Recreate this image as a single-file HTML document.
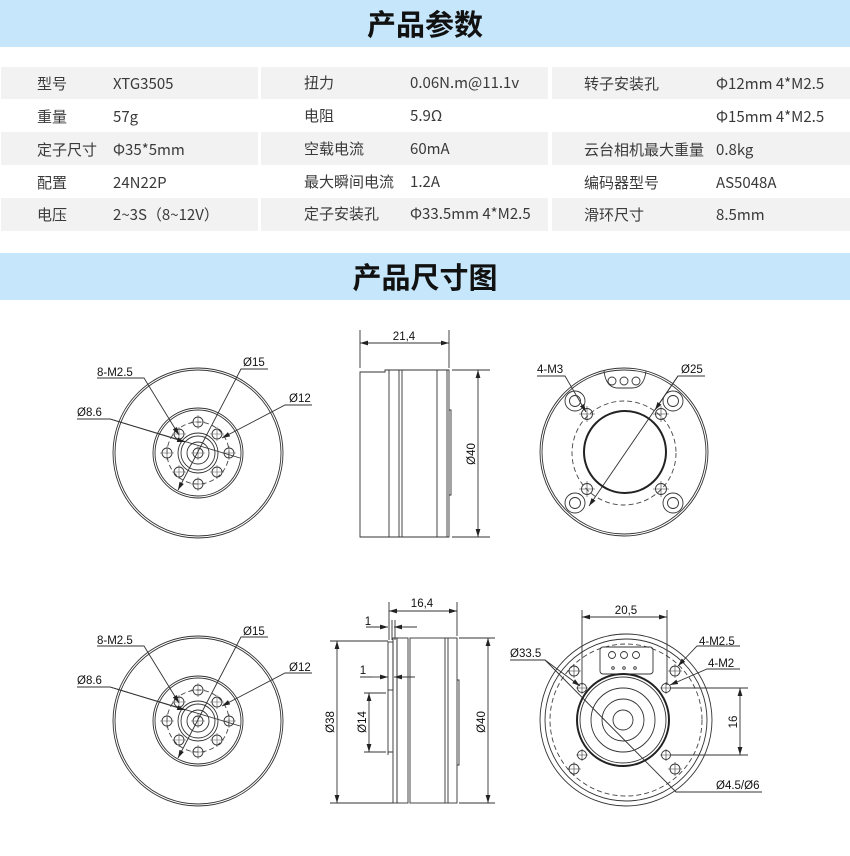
<!DOCTYPE html>
<html><head><meta charset="utf-8"><style>
html,body{margin:0;padding:0;background:#fff;}
svg{display:block;}
.t{font-family:"Noto Sans CJK SC","Liberation Sans",sans-serif;font-size:15px;fill:#3a3a3a;}
.h{font-family:"Noto Sans CJK SC","Liberation Sans",sans-serif;font-size:29px;font-weight:bold;fill:#111;}
.d{font-family:"Liberation Sans",sans-serif;font-size:11.5px;fill:#111;}
.l{stroke:#333;stroke-width:0.9;fill:none;}
.b{stroke:#222;stroke-width:2;fill:none;}
.ds{stroke:#444;stroke-width:0.9;fill:none;stroke-dasharray:5 3;}
</style></head><body>
<svg width="850" height="856" viewBox="0 0 850 856" xmlns="http://www.w3.org/2000/svg">
<defs>
<marker id="a" viewBox="0 0 10 10" refX="10" refY="5" markerWidth="8" markerHeight="8" orient="auto-start-reverse" markerUnits="userSpaceOnUse"><path d="M0,2 L10,5 L0,8 z" fill="#222"/></marker>
<g id="front">
<circle r="85" class="l"/><circle r="83" class="l"/>
<circle r="45" class="l"/><circle r="43" class="l"/>
<circle r="31" class="ds"/>
<circle r="20" class="l"/><circle r="17" class="l"/><circle r="11" class="l"/>
<g id="hole"><circle r="5" class="l"/><path d="M-7,0H7M0,-7V7" stroke="#555" stroke-width="0.6"/></g>
</g>
</defs>
<rect x="0" y="0" width="850" height="47" fill="#c6e7fb"/>
<text x="425" y="35" text-anchor="middle" class="h">产品参数</text>
<g fill="#f2f2f2">
<rect x="1" y="67" width="257" height="32"/><rect x="261" y="67" width="287" height="32"/><rect x="552" y="67" width="298" height="32"/>
<rect x="1" y="132" width="257" height="33"/><rect x="261" y="132" width="287" height="33"/><rect x="552" y="132" width="298" height="33"/>
<rect x="1" y="198" width="257" height="33"/><rect x="261" y="198" width="287" height="33"/><rect x="552" y="198" width="298" height="33"/>
</g>
<g class="t">
<text x="37" y="89">型号</text><text x="113" y="89">XTG3505</text>
<text x="304" y="88">扭力</text><text x="410" y="88">0.06N.m@11.1v</text>
<text x="584" y="89">转子安装孔</text><text x="716" y="89">Φ12mm 4*M2.5</text>
<text x="37" y="122">重量</text><text x="113" y="122">57g</text>
<text x="304" y="121">电阻</text><text x="410" y="121">5.9Ω</text>
<text x="716" y="122">Φ15mm 4*M2.5</text>
<text x="37" y="155">定子尺寸</text><text x="113" y="155">Φ35*5mm</text>
<text x="304" y="154">空载电流</text><text x="410" y="154">60mA</text>
<text x="584" y="155">云台相机最大重量</text><text x="716" y="155">0.8kg</text>
<text x="37" y="188">配置</text><text x="113" y="188">24N22P</text>
<text x="304" y="187">最大瞬间电流</text><text x="410" y="187">1.2A</text>
<text x="584" y="188">编码器型号</text><text x="716" y="188">AS5048A</text>
<text x="37" y="220">电压</text><text x="113" y="220">2~3S（8~12V）</text>
<text x="304" y="219">定子安装孔</text><text x="410" y="219">Φ33.5mm 4*M2.5</text>
<text x="584" y="220">滑环尺寸</text><text x="716" y="220">8.5mm</text>
</g>
<rect x="0" y="253" width="850" height="47" fill="#c6e7fb"/>
<text x="425" y="288" text-anchor="middle" class="h">产品尺寸图</text>

<g transform="translate(198,453)">
<use href="#front"/>
<use href="#hole" x="0" y="-31"/><use href="#hole" x="0" y="31"/><use href="#hole" x="-31" y="0"/><use href="#hole" x="31" y="0"/>
<use href="#hole" x="-19" y="-19"/><use href="#hole" x="19" y="-19"/><use href="#hole" x="-19" y="19"/><use href="#hole" x="19" y="19"/>
</g>
<g transform="translate(198,721)">
<use href="#front"/>
<use href="#hole" x="0" y="-31"/><use href="#hole" x="0" y="31"/><use href="#hole" x="-31" y="0"/><use href="#hole" x="31" y="0"/>
<use href="#hole" x="-19" y="-19"/><use href="#hole" x="19" y="-19"/><use href="#hole" x="-19" y="19"/><use href="#hole" x="19" y="19"/>
</g>
<g class="l">
<path d="M97,378H144L179,435" marker-end="url(#a)"/>
<path d="M268,369H241L178,490" marker-end="url(#a)"/>
<path d="M312,405H285L222,438" marker-end="url(#a)"/>
<path d="M77,419H110L240,458"/><path d="M110,419L185,442" marker-end="url(#a)"/>
<path d="M97,646H144L179,703" marker-end="url(#a)"/>
<path d="M268,637H241L178,758" marker-end="url(#a)"/>
<path d="M312,673H285L222,706" marker-end="url(#a)"/>
<path d="M77,687H110L240,726"/><path d="M110,687L185,710" marker-end="url(#a)"/>
</g>
<g class="d">
<text x="97" y="376">8-M2.5</text><text x="243" y="366">Ø15</text><text x="289" y="402">Ø12</text><text x="77" y="416">Ø8.6</text>
<text x="97" y="644">8-M2.5</text><text x="243" y="635">Ø15</text><text x="289" y="671">Ø12</text><text x="77" y="684">Ø8.6</text>
</g>

<g class="l">
<path d="M360,372H385V370H449V537H360Z"/>
<path d="M389,370V537M399,370V537M402,370V537M437,370V537M447,370V537"/>
<path d="M449,410H451V495H449"/>
<path d="M360,330V368M449,330V368"/>
<path d="M360,343H449" marker-start="url(#a)" marker-end="url(#a)"/>
<path d="M452,370H490M452,537H490"/>
<path d="M478,370V537" marker-start="url(#a)" marker-end="url(#a)"/>
</g>
<text class="d" x="404" y="340" text-anchor="middle">21,4</text>
<text class="d" transform="translate(475,454) rotate(-90)" text-anchor="middle">Ø40</text>

<g class="l">
<circle cx="624" cy="452" r="84"/><circle cx="624" cy="452" r="82"/>
<path d="M604,371 Q606,388 618,388 H632 Q644,388 646,371"/>
<circle cx="612" cy="381" r="4"/><circle cx="624" cy="381" r="4"/><circle cx="636" cy="381" r="4"/>
<circle cx="624" cy="453" r="52" class="ds"/>
<circle cx="575" cy="401" r="10"/><circle cx="575" cy="401" r="5.5"/>
<circle cx="673" cy="401" r="10"/><circle cx="673" cy="401" r="5.5"/>
<circle cx="575" cy="503" r="10"/><circle cx="575" cy="503" r="5.5"/>
<circle cx="673" cy="503" r="10"/><circle cx="673" cy="503" r="5.5"/>
<circle cx="587" cy="414" r="5.5"/><circle cx="661" cy="414" r="5.5"/><circle cx="587" cy="489" r="5.5"/><circle cx="661" cy="489" r="5.5"/>
<path d="M579,414H595M587,406V422M653,414H669M661,406V422M579,489H595M587,481V497M653,489H669M661,481V497" stroke-width="0.6"/>
<path d="M537,376H565L586,412" marker-end="url(#a)"/>
<path d="M705,376H678L589,506" marker-end="url(#a)"/>
<path d="M678,376L655,410" marker-end="url(#a)"/>
</g>
<circle cx="625" cy="452" r="41" class="b"/>
<text class="d" x="537" y="373">4-M3</text><text class="d" x="681" y="373">Ø25</text>

<g class="l">
<rect x="388" y="642" width="5" height="48"/>
<path d="M388,690V752H393"/><path d="M388,752V755"/>
<rect x="393" y="638" width="4" height="165"/>
<rect x="397" y="638" width="11" height="165"/>
<rect x="410" y="638" width="47" height="165"/>
<path d="M445,638V803M448,638V803"/>
<path d="M457,680H459V765H457"/>
<path d="M389,602V640M457,602V636"/>
<path d="M389,611H457" marker-start="url(#a)" marker-end="url(#a)"/>
<path d="M366,627H379M403,627H417"/><path d="M378,627H388" marker-end="url(#a)"/><path d="M404,627H394" marker-end="url(#a)"/>
<path d="M392,620V640M395,620V640"/>
<path d="M360,677H372M400,677H415"/><path d="M372,677H388" marker-end="url(#a)"/><path d="M405,677H394" marker-end="url(#a)"/>
<path d="M330,641H388M330,803H393"/>
<path d="M337,641V803" marker-start="url(#a)" marker-end="url(#a)"/>
<path d="M364,693H386M364,752H386"/>
<path d="M369,693V752" marker-start="url(#a)" marker-end="url(#a)"/>
<path d="M459,638H495M459,803H495"/>
<path d="M488,638V803" marker-start="url(#a)" marker-end="url(#a)"/>
</g>
<text class="d" x="422" y="607" text-anchor="middle">16,4</text>
<text class="d" x="368" y="625" text-anchor="middle">1</text>
<text class="d" x="363" y="674" text-anchor="middle">1</text>
<text class="d" transform="translate(334,722) rotate(-90)" text-anchor="middle">Ø38</text>
<text class="d" transform="translate(366,722) rotate(-90)" text-anchor="middle">Ø14</text>
<text class="d" transform="translate(485,722) rotate(-90)" text-anchor="middle">Ø40</text>

<g class="l">
<circle cx="626" cy="720" r="86"/><circle cx="626" cy="720" r="81"/>
<circle cx="626" cy="720" r="76" class="ds"/>
<rect x="600" y="647" width="53" height="27" rx="3"/>
<circle cx="612" cy="655" r="3.5"/><circle cx="624" cy="655" r="3.5"/><circle cx="636" cy="655" r="3.5"/>
<circle cx="613" cy="668" r="1.3"/><circle cx="624" cy="668" r="1.3"/><circle cx="635" cy="668" r="1.3"/>
<circle cx="623" cy="720" r="43"/><circle cx="623" cy="720" r="32"/><circle cx="623" cy="720" r="21"/><circle cx="623" cy="720" r="10"/>
<circle cx="574" cy="671" r="5"/><circle cx="675" cy="671" r="5"/><circle cx="574" cy="769" r="5"/><circle cx="675" cy="769" r="5"/>
<circle cx="582" cy="688" r="4.5"/><circle cx="666" cy="688" r="4.5"/><circle cx="582" cy="755" r="4.5"/><circle cx="666" cy="755" r="4.5"/>
<path d="M567,671H581M574,664V678M668,671H682M675,664V678M567,769H581M574,762V776M668,769H682M675,762V776M576,688H588M582,682V694M660,688H672M666,682V694M576,755H588M582,749V761M660,755H672M666,749V761" stroke-width="0.6"/>
<path d="M582,610V685M667,610V685"/>
<path d="M582,617H667" marker-start="url(#a)" marker-end="url(#a)"/>
<path d="M670,688H748M670,755H748"/>
<path d="M740,688V755" marker-start="url(#a)" marker-end="url(#a)"/>
<path d="M510,660H545L676,792L705,792H762"/>
<path d="M545,660L580,686" marker-end="url(#a)"/>
<path d="M740,646H697L678,666" marker-end="url(#a)"/>
<path d="M740,669H707L670,685" marker-end="url(#a)"/>
</g>
<circle cx="623" cy="720" r="46" class="b"/>
<text class="d" x="626" y="614" text-anchor="middle">20,5</text>
<text class="d" x="510" y="657">Ø33.5</text>
<text class="d" x="699" y="645">4-M2.5</text>
<text class="d" x="708" y="667">4-M2</text>
<text class="d" x="716" y="789">Ø4.5/Ø6</text>
<text class="d" transform="translate(737,722) rotate(-90)" text-anchor="middle">16</text>
</svg>
</body></html>
